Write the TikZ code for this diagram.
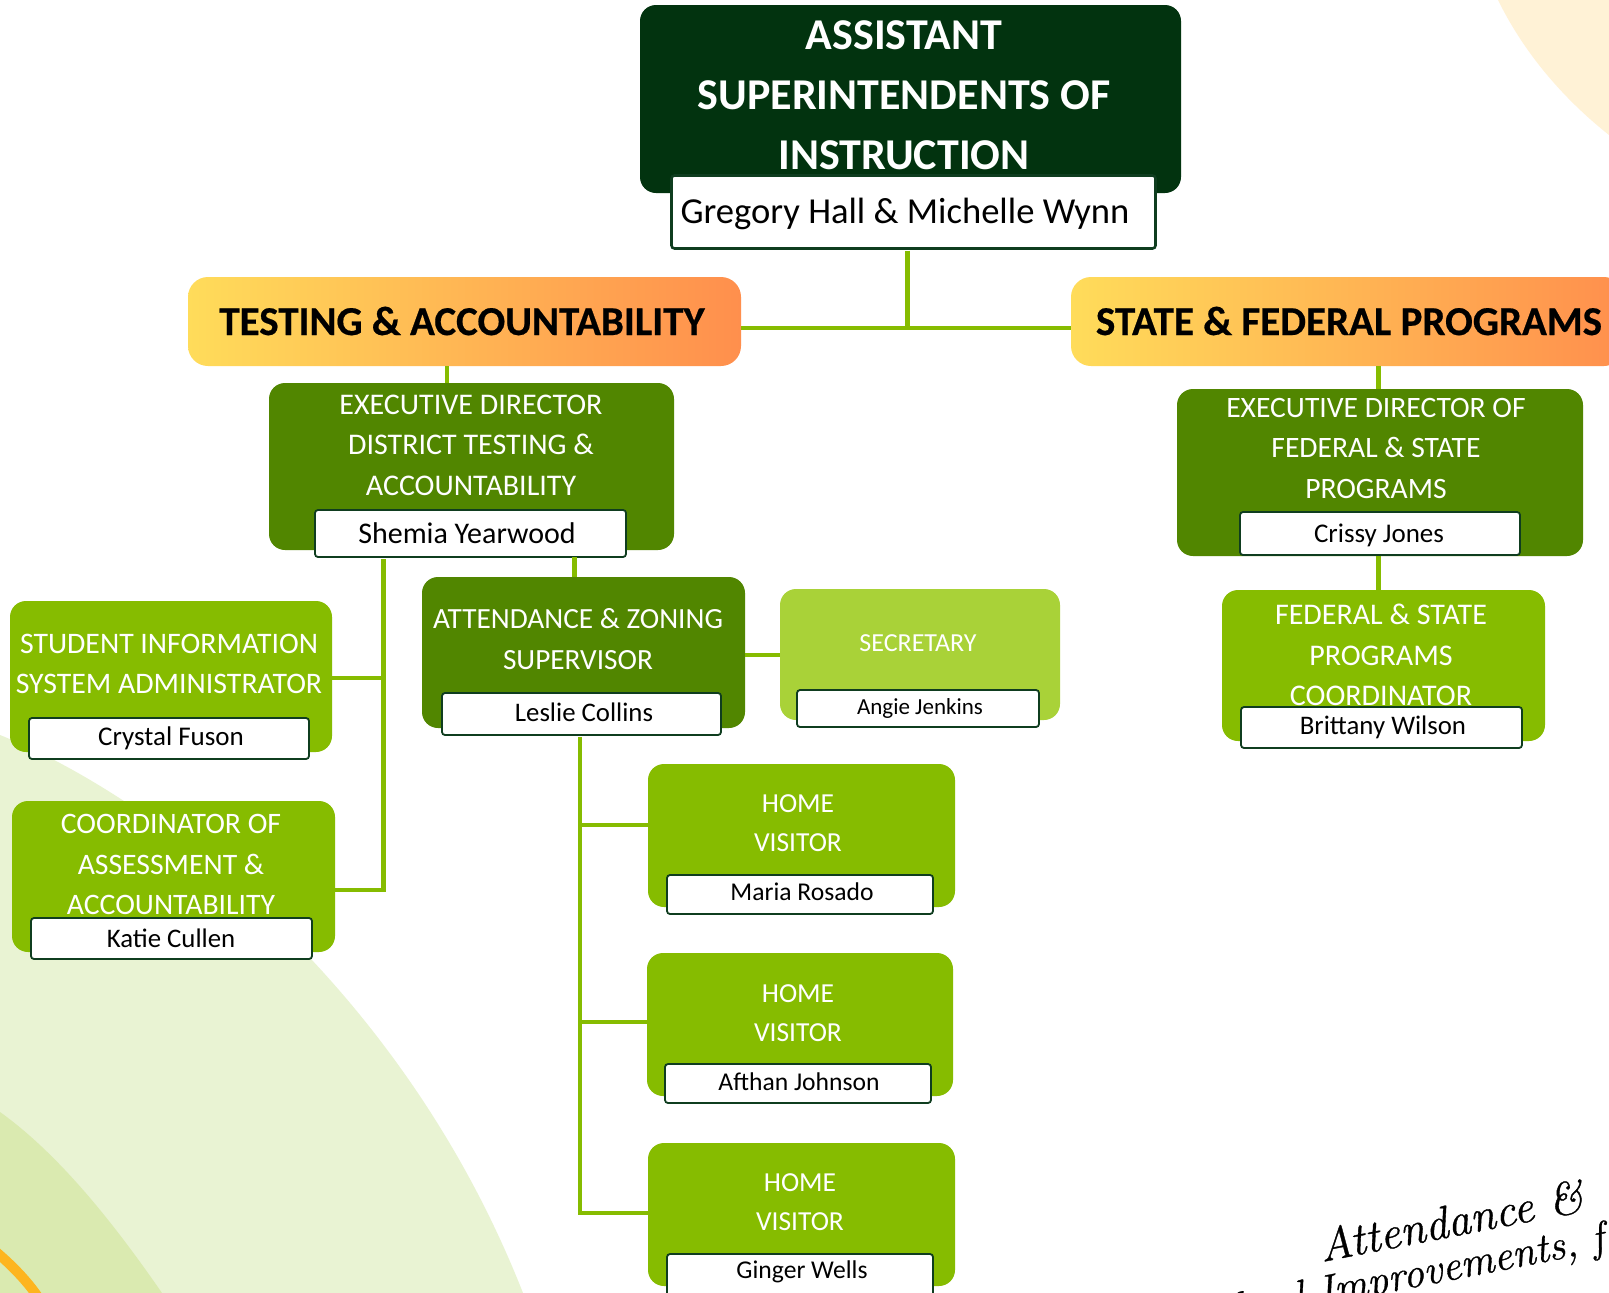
\documentclass[tikz,border=0pt]{standalone}
\usepackage{fontspec}
\setmainfont{Carlito}
\newfontfamily\headfont[BoldFeatures={FakeBold=0.5}]{Carlito}
\newfontfamily\sigfont[ItalicFeatures={FakeBold=0.8}]{Latin Modern Roman}
\definecolor{titlegreen}{HTML}{02330F}
\definecolor{darkgreen}{HTML}{518600}
\definecolor{midgreen}{HTML}{86BC00}
\definecolor{lightgreen}{HTML}{A9D238}
\definecolor{edgegreen}{HTML}{0F3D1F}
\definecolor{bgouter}{HTML}{E9F3D3}
\definecolor{bginner}{HTML}{DAEAB0}
\definecolor{bgorange}{HTML}{FDB51F}
\definecolor{bgcream}{HTML}{FFF2D6}
\definecolor{headl}{HTML}{FFDC5A}
\definecolor{headr}{HTML}{FF8F4D}
\tikzset{
  card/.style={rounded corners=16pt,inner sep=0pt,outer sep=0pt},
  cardtext/.style={text=white,align=center,inner sep=0pt,font=\fontsize{#1}{40.5}\selectfont},
  hometext/.style={text=white,align=center,inner sep=0pt,font=\fontsize{27.5}{39}\selectfont},
  namebox/.style={draw=edgegreen,fill=white,line width=1.8pt,rounded corners=3pt,inner sep=0pt,outer sep=0pt},
  nametext/.style={text=black,inner sep=0pt,font=\fontsize{#1}{30}\selectfont},
  headbox/.style={rounded corners=20pt,left color=headl,right color=headr,minimum width=553pt,minimum height=89pt,inner sep=0pt,outer sep=0pt},
  headtext/.style={font=\headfont\fontsize{41}{44}\selectfont\bfseries,inner sep=0pt},
  link/.style={draw=midgreen,line width=4.2pt},
  script/.style={inner sep=0pt,rotate=11,anchor=base west,font=\fontsize{#1}{#1}\selectfont\sigfont\itshape},
}
\newcommand{\boxat}[7]{% style,name,x0,y0,x1,y1,fill
  \node[#1,fill=#7,minimum width=#5pt-#3pt,minimum height=#6pt-#4pt] (#2) at ({(#3+#5)/2},{(#4+#6)/2}) {};}
\newcommand{\nameat}[5]{% name,x0,y0,x1,y1
  \node[namebox,minimum width=#4pt-#2pt,minimum height=#5pt-#3pt] (#1) at ({(#2+#4)/2},{(#3+#5)/2}) {};}
\begin{document}
\begin{tikzpicture}[x=1pt,y=-1pt]
\clip (0,0) rectangle (1609,1293);
\fill[white] (0,0) rectangle (1609,1293);
% background shapes
\fill[bgouter] (0,1293) -- (0,735) .. controls (150,795) and (400,980) .. (523,1293) -- cycle;
\fill[bginner] (0,1293) -- (0,1112) .. controls (60,1155) and (115,1225) .. (162,1293) -- cycle;
\draw[bgorange,line width=10pt] (-5,1251) .. controls (8,1262) and (25,1278) .. (38,1297);
\fill[bgcream] (1609,0) -- (1498,0) .. controls (1525,55) and (1565,100) .. (1609,135) -- cycle;
% title
\boxat{card}{title}{640}{5}{1181}{193}{titlegreen}
\node[text=white,align=center,inner sep=0pt,font=\fontsize{44}{60}\selectfont\bfseries] (titletext) at (904,95.5) {ASSISTANT\\SUPERINTENDENTS OF\\INSTRUCTION};
\node[namebox,line width=2.6pt,minimum width=484pt,minimum height=73pt] (ghname) at (913.5,212) {};
\node[nametext=36.6] (ghtext) at (905,214) {Gregory Hall \& Michelle Wynn};
% headers
\node[headbox] (testing) at (464.5,321.5) {};
\node[headtext] (testingtext) at (462,321) {TESTING \& ACCOUNTABILITY};
\node[headbox] (state) at (1347.5,321.5) {};
\node[headtext] (statetext) at (1349,321) {STATE \& FEDERAL PROGRAMS};
% executive testing
\boxat{card}{exectest}{269}{383}{674}{550}{darkgreen}
\node[cardtext=30] (exectesttext) at (471,445) {EXECUTIVE DIRECTOR\\DISTRICT TESTING \&\\ACCOUNTABILITY};
\nameat{shemia}{315}{510}{626}{557}
\node[nametext=30] (shemiatext) at (467,533) {Shemia Yearwood};
% attendance
\boxat{card}{attend}{422}{577}{745}{728}{darkgreen}
\node[cardtext=29.3] (attendtext) at (578,639) {ATTENDANCE \& ZONING\\SUPERVISOR};
\nameat{leslie}{442}{693}{721}{735}
\node[nametext=26.8] (leslietext) at (584,712) {Leslie Collins};
% SIS
\boxat{card}{sis}{10}{601}{332}{752}{midgreen}
\node[cardtext=29.8] (sistext) at (169,664) {STUDENT INFORMATION\\SYSTEM ADMINISTRATOR};
\nameat{crystal}{29}{718}{309}{759}
\node[nametext=27] (crystaltext) at (171,738) {Crystal Fuson};
% coordinator
\boxat{card}{coord}{12}{801}{335}{952}{midgreen}
\node[cardtext=29.7] (coordtext) at (171,864.5) {COORDINATOR OF\\ASSESSMENT \&\\ACCOUNTABILITY};
\nameat{katie}{31}{918}{312}{959}
\node[nametext=26.8] (katietext) at (171,938) {Katie Cullen};
% secretary
\boxat{card}{sec}{780}{589}{1060}{720}{lightgreen}
\node[cardtext=26] (sectext) at (918,643) {SECRETARY};
\nameat{angie}{797}{690}{1039}{727}
\node[nametext=23] (angietext) at (920,708) {Angie Jenkins};
% home visitors
\boxat{card}{home1}{648}{764}{955}{907}{midgreen}
\node[hometext] (home1text) at (798,823.5) {HOME\\VISITOR};
\nameat{maria}{667}{875}{933}{914}
\node[nametext=25.6] (mariatext) at (802,892) {Maria Rosado};
\boxat{card}{home2}{647}{953}{953}{1096}{midgreen}
\node[hometext] (home2text) at (798,1013) {HOME\\VISITOR};
\nameat{afthan}{665}{1064}{931}{1103}
\node[nametext=25.6] (afthantext) at (799,1082) {Afthan Johnson};
\boxat{card}{home3}{648}{1143}{955}{1286}{midgreen}
\node[hometext] (home3text) at (800,1202.5) {HOME\\VISITOR};
\nameat{ginger}{667}{1254}{933}{1300}
\node[nametext=25.6] (gingertext) at (802,1271.5) {Ginger Wells};
% executive fed
\boxat{card}{execfed}{1177}{389}{1583}{556}{darkgreen}
\node[cardtext=29.6] (execfedtext) at (1376,448) {EXECUTIVE DIRECTOR OF\\FEDERAL \& STATE\\PROGRAMS};
\nameat{crissy}{1240}{512}{1520}{555}
\node[nametext=27] (crissytext) at (1379,535) {Crissy Jones};
% fed coordinator
\boxat{card}{fedcoord}{1222}{590}{1545}{741}{midgreen}
\node[cardtext=30] (fedcoordtext) at (1381,655) {FEDERAL \& STATE\\PROGRAMS\\COORDINATOR};
\nameat{brittany}{1241}{707}{1522}{748}
\node[nametext=26.8] (brittanytext) at (1383,727) {Brittany Wilson};
% connectors
\coordinate (j1) at (907.5,328);
\coordinate (c1) at (447,0);
\coordinate (c2) at (1378.5,0);
\coordinate (c3) at (574.5,0);
\coordinate (c4) at (383.5,0);
\coordinate (c5) at (580,0);
\coordinate (b4) at (383.5,892);
\coordinate (b5) at (580,1213);
\draw[link] ([yshift=-2pt]ghname.south -| j1) -- (j1);
\draw[link] (testing.east |- j1) -- (state.west |- j1);
\draw[link] (testing.south -| c1) -- (exectest.north -| c1);
\draw[link] (state.south -| c2) -- (execfed.north -| c2);
\draw[link] (execfed.south -| c2) -- (fedcoord.north -| c2);
\draw[link] (shemia.south -| c3) -- (attend.north -| c3);
\draw[link] ([yshift=-2pt]shemia.south -| c4) -- (b4);
\coordinate (y1) at (0,678);
\coordinate (y2) at (0,890);
\draw[link] (sis.east |- y1) -- (y1 -| c4);
\draw[link] (coord.east |- y2) -- (y2 -| c4);
\coordinate (y3) at (0,655);
\draw[link] (attend.east |- y3) -- (sec.west |- y3);
\draw[link] ([yshift=-2pt]leslie.south -| c5) -- (b5) -- (home3.west |- b5);
\coordinate (y4) at (0,825);
\coordinate (y5) at (0,1022);
\draw[link] (y4 -| c5) -- (home1.west |- y4);
\draw[link] (y5 -| c5) -- (home2.west |- y5);
% signature
\node[script=46] (sig1) at (1322,1262) {Attendance \&};
\node[script=42] (sig2) at (1195,1330) {School Improvements, f};
\end{tikzpicture}
\end{document}
